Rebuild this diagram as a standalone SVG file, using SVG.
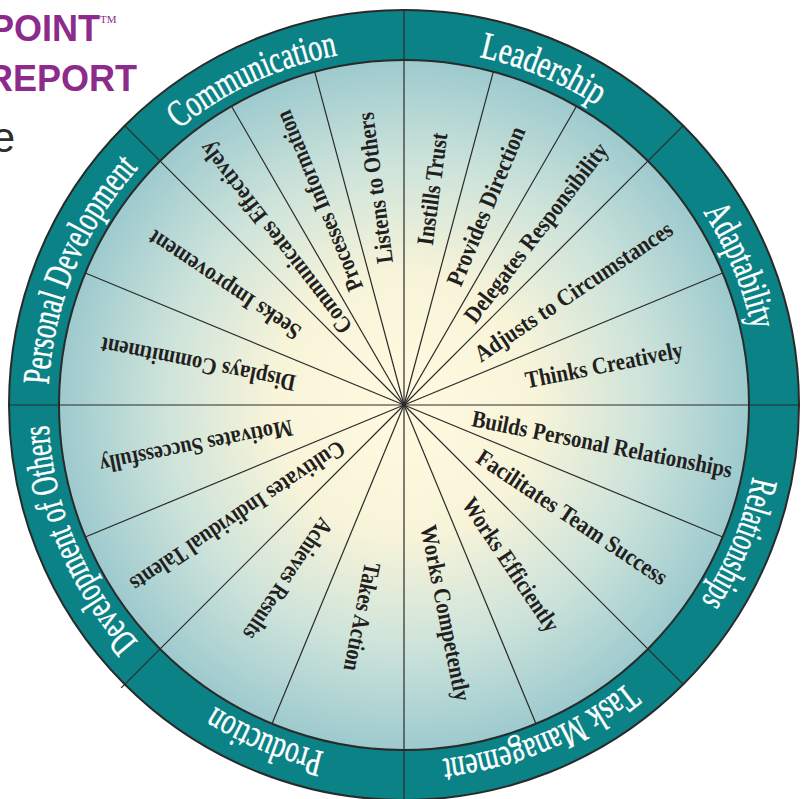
<svg xmlns="http://www.w3.org/2000/svg" xmlns:xlink="http://www.w3.org/1999/xlink" width="802" height="799" viewBox="0 0 802 799">
<style>
.cat{font-family:"Liberation Serif","Times New Roman",serif;font-size:38px;fill:#ffffff;stroke:#ffffff;stroke-width:0.5}
.comp{font-family:"Liberation Serif","Times New Roman",serif;font-weight:bold;font-size:24px;fill:#231f20;text-anchor:middle}
.spoke{stroke:#2a2a2a;stroke-width:1.2;fill:none}
.edge{stroke:#2a2a2a;stroke-width:2}
.brand{font-family:"Liberation Sans",Arial,sans-serif;font-weight:bold;font-size:36px;fill:#8c2b8b;text-anchor:end}
</style>
<defs>
<radialGradient id="fillg" cx="404" cy="405" r="345" gradientUnits="userSpaceOnUse">
<stop offset="0" stop-color="#fffae0"/>
<stop offset="0.38" stop-color="#f8f4d9"/>
<stop offset="0.7" stop-color="#cde3da"/>
<stop offset="1" stop-color="#9dcace"/>
</radialGradient>
<path id="p-lead" d="M187.3 122.5 A356 356 0 0 1 757 358.5"/>
<path id="p-adap" d="M450.5 52.1 A356 356 0 0 1 686.5 621.7"/>
<path id="p-rel" d="M686.5 188.3 A356 356 0 0 1 450.5 757.9"/>
<path id="p-task" d="M757 451.5 A356 356 0 0 1 187.3 687.5"/>
<path id="p-prod" d="M620.7 687.5 A356 356 0 0 1 51 451.5"/>
<path id="p-dev" d="M357.5 757.9 A356 356 0 0 1 121.5 188.3"/>
<path id="p-pers" d="M121.5 621.7 A356 356 0 0 1 357.5 52.1"/>
<path id="p-comm" d="M49.4 374 A356 356 0 0 1 608.2 113.4"/>
</defs>
<rect x="0" y="0" width="802" height="799" fill="#ffffff"/>
<g id="header">
<text class="brand" x="100" y="41">POINT</text>
<text x="100" y="23" font-family="Liberation Serif,serif" font-size="11" fill="#8c2b8b">TM</text>
<text class="brand" x="137" y="91">REPORT</text>
<text x="15" y="152" font-family="Liberation Sans,Arial,sans-serif" font-size="42" fill="#2d2d2d" text-anchor="end">e</text>
</g>
<g id="wheel">
<circle cx="404" cy="405" r="395" fill="#0a8286" class="edge"/>
<circle cx="404" cy="405" r="345" fill="url(#fillg)" class="edge"/>
</g>
<g id="connectors">
<line class="spoke" x1="404" y1="405" x2="404" y2="10"/>
<line class="spoke" x1="404" y1="405" x2="493.3" y2="71.8"/>
<line class="spoke" x1="404" y1="405" x2="576.5" y2="106.2"/>
<line class="spoke" x1="404" y1="405" x2="683.3" y2="125.7"/>
<line class="spoke" x1="404" y1="405" x2="722.7" y2="273"/>
<line class="spoke" x1="404" y1="405" x2="799" y2="405"/>
<line class="spoke" x1="404" y1="405" x2="722.7" y2="537"/>
<line class="spoke" x1="404" y1="405" x2="683.3" y2="684.3"/>
<line class="spoke" x1="404" y1="405" x2="536" y2="723.7"/>
<line class="spoke" x1="404" y1="405" x2="404" y2="800"/>
<line class="spoke" x1="404" y1="405" x2="272" y2="723.7"/>
<line class="spoke" x1="404" y1="405" x2="121.2" y2="687.8"/>
<line class="spoke" x1="404" y1="405" x2="85.3" y2="537"/>
<line class="spoke" x1="404" y1="405" x2="9" y2="405"/>
<line class="spoke" x1="404" y1="405" x2="85.3" y2="273"/>
<line class="spoke" x1="404" y1="405" x2="124.7" y2="125.7"/>
<line class="spoke" x1="404" y1="405" x2="231.5" y2="106.2"/>
<line class="spoke" x1="404" y1="405" x2="314.7" y2="71.8"/>
</g>
<g id="cat-leadership"><text class="cat"><textPath xlink:href="#p-lead" href="#p-lead" startOffset="50%" text-anchor="middle" textLength="128" lengthAdjust="spacingAndGlyphs">Leadership</textPath></text></g>
<g id="cat-adaptability"><text class="cat"><textPath xlink:href="#p-adap" href="#p-adap" startOffset="50%" text-anchor="middle" textLength="128" lengthAdjust="spacingAndGlyphs">Adaptability</textPath></text></g>
<g id="cat-relationships"><text class="cat"><textPath xlink:href="#p-rel" href="#p-rel" startOffset="50%" text-anchor="middle" textLength="135" lengthAdjust="spacingAndGlyphs">Relationships</textPath></text></g>
<g id="cat-task"><text class="cat"><textPath xlink:href="#p-task" href="#p-task" startOffset="50%" text-anchor="middle" textLength="203" lengthAdjust="spacingAndGlyphs">Task Management</textPath></text></g>
<g id="cat-production"><text class="cat"><textPath xlink:href="#p-prod" href="#p-prod" startOffset="50%" text-anchor="middle" textLength="119" lengthAdjust="spacingAndGlyphs">Production</textPath></text></g>
<g id="cat-devothers"><text class="cat"><textPath xlink:href="#p-dev" href="#p-dev" startOffset="50%" text-anchor="middle" textLength="239" lengthAdjust="spacingAndGlyphs">Development of Others</textPath></text></g>
<g id="cat-personal"><text class="cat"><textPath xlink:href="#p-pers" href="#p-pers" startOffset="50%" text-anchor="middle" textLength="239" lengthAdjust="spacingAndGlyphs">Personal Development</textPath></text></g>
<g id="cat-communication"><text class="cat"><textPath xlink:href="#p-comm" href="#p-comm" startOffset="50%" text-anchor="middle" textLength="177" lengthAdjust="spacingAndGlyphs">Communication</textPath></text></g>
<g id="c-instills"><text class="comp" x="622" y="405" dy="0.32em" textLength="113" lengthAdjust="spacingAndGlyphs" transform="rotate(-82.5 404 405)">Instills Trust</text></g>
<g id="c-provides"><text class="comp" x="619" y="405" dy="0.32em" textLength="170" lengthAdjust="spacingAndGlyphs" transform="rotate(-67.5 404 405)">Provides Direction</text></g>
<g id="c-delegates"><text class="comp" x="621" y="405" dy="0.32em" textLength="220" lengthAdjust="spacingAndGlyphs" transform="rotate(-52.5 404 405)">Delegates Responsibility</text></g>
<g id="c-adjusts"><text class="comp" x="608" y="405" dy="0.32em" textLength="233" lengthAdjust="spacingAndGlyphs" transform="rotate(-33.75 404 405)">Adjusts to Circumstances</text></g>
<g id="c-thinks"><text class="comp" x="608" y="405" dy="0.32em" textLength="160" lengthAdjust="spacingAndGlyphs" transform="rotate(-11.25 404 405)">Thinks Creatively</text></g>
<g id="c-builds"><text class="comp" x="606" y="405" dy="0.32em" textLength="265" lengthAdjust="spacingAndGlyphs" transform="rotate(11.25 404 405)">Builds Personal Relationships</text></g>
<g id="c-facilitates"><text class="comp" x="606" y="405" dy="0.32em" textLength="224" lengthAdjust="spacingAndGlyphs" transform="rotate(33.75 404 405)">Facilitates Team Success</text></g>
<g id="c-efficiently"><text class="comp" x="596" y="405" dy="0.32em" textLength="156" lengthAdjust="spacingAndGlyphs" transform="rotate(56.25 404 405)">Works Efficiently</text></g>
<g id="c-competently"><text class="comp" x="616" y="405" dy="0.32em" textLength="179" lengthAdjust="spacingAndGlyphs" transform="rotate(78.75 404 405)">Works Competently</text></g>
<g id="c-takes"><text class="comp" x="620" y="405" dy="0.32em" textLength="110" lengthAdjust="spacingAndGlyphs" transform="rotate(101.25 404 405)">Takes Action</text></g>
<g id="c-achieves"><text class="comp" x="613" y="405" dy="0.32em" textLength="141" lengthAdjust="spacingAndGlyphs" transform="rotate(123.75 404 405)">Achieves Results</text></g>
<g id="c-cultivates"><text class="comp" x="604" y="405" dy="0.32em" textLength="253" lengthAdjust="spacingAndGlyphs" transform="rotate(146.25 404 405)">Cultivates Individual Talents</text></g>
<g id="c-motivates"><text class="comp" x="616" y="405" dy="0.32em" textLength="196" lengthAdjust="spacingAndGlyphs" transform="rotate(168.75 404 405)">Motivates Successfully</text></g>
<g id="c-displays"><text class="comp" x="614" y="405" dy="0.32em" textLength="198" lengthAdjust="spacingAndGlyphs" transform="rotate(191.25 404 405)">Displays Commitment</text></g>
<g id="c-seeks"><text class="comp" x="620" y="405" dy="0.32em" textLength="178" lengthAdjust="spacingAndGlyphs" transform="rotate(213.75 404 405)">Seeks Improvement</text></g>
<g id="c-communicates"><text class="comp" x="615" y="405" dy="0.32em" textLength="235" lengthAdjust="spacingAndGlyphs" transform="rotate(232.5 404 405)">Communicates Effectively</text></g>
<g id="c-processes"><text class="comp" x="625" y="405" dy="0.32em" textLength="193" lengthAdjust="spacingAndGlyphs" transform="rotate(247.5 404 405)">Processes Information</text></g>
<g id="c-listens"><text class="comp" x="623" y="405" dy="0.32em" textLength="152" lengthAdjust="spacingAndGlyphs" transform="rotate(262.5 404 405)">Listens to Others</text></g>
</svg>
